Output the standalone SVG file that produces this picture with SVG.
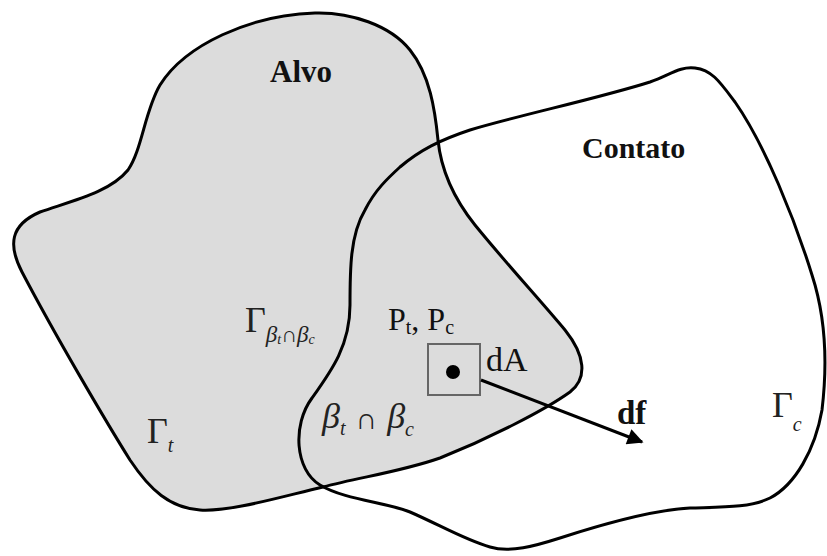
<svg xmlns="http://www.w3.org/2000/svg" width="827" height="556" viewBox="0 0 827 556">
<defs>
<style>
.outline{fill:none;stroke:#000;stroke-width:3;stroke-linejoin:round}
.target{fill:#dcdcdc;stroke:#000;stroke-width:3;stroke-linejoin:round}
.t{font-family:"Liberation Serif","DejaVu Serif",serif;fill:#111}
.b{font-weight:bold}
.i{font-style:italic}
.lbl{font-family:"Liberation Serif","DejaVu Serif",serif;fill:#222}
</style>
<marker id="ah" viewBox="0 0 10 10" refX="9" refY="5" markerWidth="22" markerHeight="16" markerUnits="userSpaceOnUse" orient="auto">
<path d="M0,0 L10,5 L0,10 z" fill="#000"/>
</marker>
</defs>
<g id="alvo">
<path class="target" d="M315,13 C350,12 390,25 410,50 C430,75 435,110 438,140 C441,170 455,200 475,225 C505,262 540,300 565,330 C585,355 588,378 570,392 C545,410 490,438 440,458 C400,472 360,477 323,487 C280,497 230,512 200,510 C170,508 150,490 130,460 C105,420 55,335 22,272 C8,245 10,225 40,212 C75,200 110,192 128,170 C142,150 145,110 160,85 C185,45 250,15 315,13 Z"/>
<text class="t b" x="270" y="82" font-size="31">Alvo</text>
</g>
<g id="contato">
<path class="outline" d="M400,167 C420,150 440,140 470,130 C520,115 600,98 650,82 C670,75 680,66 695,68 C712,70 720,82 735,102 C765,145 795,220 812,275 C825,315 828,360 822,410 C815,450 795,485 770,498 C750,508 720,507 690,508 C650,510 600,525 560,538 C535,546 510,553 490,547 C465,540 440,525 410,512 C385,502 345,500 320,485 C295,470 292,425 312,398 C332,370 350,345 350,305 C350,270 350,235 365,210 C375,190 388,178 400,167 Z"/>
<text class="t b" x="582" y="158" font-size="30">Contato</text>
</g>
<g id="dA">
<rect x="428" y="344" width="52" height="51" fill="none" stroke="#666" stroke-width="2"/>
<circle cx="453" cy="372" r="7" fill="#000"/>
<text class="t" x="486" y="371" font-size="34">dA</text>
</g>
<g id="labels">
<text class="t" x="388" y="330" font-size="32">P<tspan font-size="20" dy="4">t</tspan><tspan dy="-4">, P</tspan><tspan font-size="20" dy="4">c</tspan></text>
<text class="lbl" x="147" y="443" font-size="36">Γ<tspan class="i" font-size="20" dy="9">t</tspan></text>
<text class="lbl" x="772" y="417" font-size="36">Γ<tspan class="i" font-size="20" dy="14">c</tspan></text>
<text class="lbl" x="245" y="332" font-size="36">Γ<tspan class="i" font-size="23" dy="10">β</tspan><tspan class="i" font-size="14" dy="2">t</tspan><tspan font-size="22" dy="-2">∩</tspan><tspan class="i" font-size="23">β</tspan><tspan class="i" font-size="14" dy="2">c</tspan></text>
<text class="lbl" x="322" y="428" font-size="36"><tspan class="i">β</tspan><tspan class="i" font-size="20" dy="7">t</tspan><tspan font-size="30" dy="-6" dx="10">∩</tspan><tspan class="i" dy="-1" dx="10">β</tspan><tspan class="i" font-size="20" dy="8">c</tspan></text>
</g>
<g id="connectors">
<line x1="481" y1="380" x2="642" y2="442" stroke="#000" stroke-width="3" marker-end="url(#ah)"/>
<text class="t b" x="617" y="424" font-size="33">df</text>
</g>
</svg>
